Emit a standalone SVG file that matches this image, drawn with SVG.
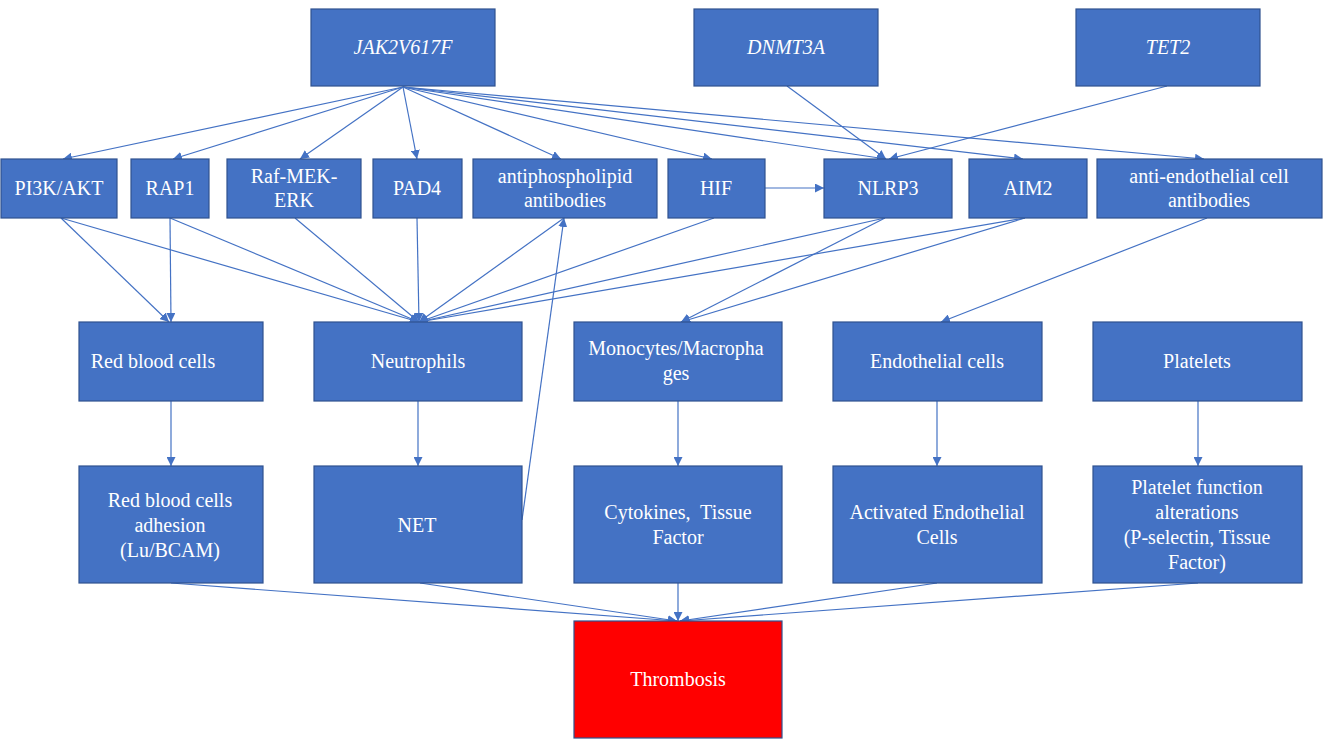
<svg xmlns="http://www.w3.org/2000/svg" width="1325" height="746" viewBox="0 0 1325 746">
<defs>
<style>
.n{fill:#4472C4;stroke:#2F528F;stroke-width:1.2}
.r{fill:#FF0000;stroke:#2F528F;stroke-width:1.2}
text{font-family:'Liberation Serif','Times New Roman','DejaVu Serif',serif;font-size:20px;fill:#FFFFFF;text-anchor:middle}
.i{font-style:italic}
.c line{stroke:#4472C4;stroke-width:1.2;fill:none;marker-end:url(#ah)}
</style>
<marker id="ah" viewBox="0 0 10 10" refX="10" refY="5" markerWidth="9" markerHeight="9" markerUnits="userSpaceOnUse" orient="auto">
<path d="M0,0 L10,5 L0,10 z" fill="#4472C4"/>
</marker>
</defs>
<rect width="1325" height="746" fill="#FFFFFF"/>
<g id="connectors" class="c">
<line x1="403" y1="87" x2="63" y2="159"/>
<line x1="403" y1="87" x2="173" y2="159"/>
<line x1="403" y1="87" x2="300" y2="159"/>
<line x1="403" y1="87" x2="417" y2="159"/>
<line x1="403" y1="87" x2="561" y2="159"/>
<line x1="403" y1="87" x2="712" y2="159"/>
<line x1="403" y1="87" x2="886" y2="159"/>
<line x1="403" y1="87" x2="1023" y2="159"/>
<line x1="403" y1="87" x2="1204" y2="159"/>
<line x1="787" y1="86" x2="886" y2="159"/>
<line x1="1167" y1="86" x2="889" y2="159"/>
<line x1="765" y1="188" x2="824" y2="188"/>
<line x1="61" y1="218" x2="169" y2="322"/>
<line x1="61" y1="218" x2="419" y2="322"/>
<line x1="170" y1="218" x2="171" y2="322"/>
<line x1="170" y1="218" x2="419" y2="322"/>
<line x1="295" y1="218" x2="419" y2="322"/>
<line x1="417" y1="218" x2="419" y2="322"/>
<line x1="564" y1="218" x2="419" y2="322"/>
<line x1="714" y1="218" x2="419" y2="322"/>
<line x1="885" y1="218" x2="419" y2="322"/>
<line x1="1025" y1="218" x2="419" y2="322"/>
<line x1="522" y1="520" x2="564" y2="218"/>
<line x1="885" y1="218" x2="681" y2="322"/>
<line x1="1025" y1="218" x2="681" y2="322"/>
<line x1="1207" y1="218" x2="941" y2="322"/>
<line x1="171" y1="401" x2="171" y2="466"/>
<line x1="418" y1="401" x2="418" y2="466"/>
<line x1="678" y1="401" x2="678" y2="466"/>
<line x1="937" y1="401" x2="937" y2="466"/>
<line x1="1198" y1="401" x2="1198" y2="466"/>
<line x1="171" y1="583" x2="677" y2="621"/>
<line x1="420" y1="583" x2="677" y2="621"/>
<line x1="678" y1="583" x2="678" y2="621"/>
<line x1="937" y1="583" x2="680" y2="621"/>
<line x1="1198" y1="583" x2="680" y2="621"/>
</g>
<g id="jak2"><rect class="n" x="311" y="9" width="184" height="77"/><text class="i" x="403" y="54">JAK2V617F</text></g>
<g id="dnmt3a"><rect class="n" x="694" y="9" width="184" height="77"/><text class="i" x="786" y="54">DNMT3A</text></g>
<g id="tet2"><rect class="n" x="1076" y="9" width="184" height="77"/><text class="i" x="1168" y="54">TET2</text></g>
<g id="pi3k"><rect class="n" x="1" y="159" width="116" height="59"/><text x="59" y="195">PI3K/AKT</text></g>
<g id="rap1"><rect class="n" x="131" y="159" width="78" height="59"/><text x="170" y="195">RAP1</text></g>
<g id="raf"><rect class="n" x="227" y="159" width="134" height="59"/><text x="294" y="183">Raf-MEK-</text><text x="294" y="207">ERK</text></g>
<g id="pad4"><rect class="n" x="373" y="159" width="89" height="59"/><text x="417" y="195">PAD4</text></g>
<g id="apl"><rect class="n" x="473" y="159" width="184" height="59"/><text x="565" y="183">antiphospholipid</text><text x="565" y="207">antibodies</text></g>
<g id="hif"><rect class="n" x="668" y="159" width="97" height="59"/><text x="716" y="195">HIF</text></g>
<g id="nlrp3"><rect class="n" x="824" y="159" width="128" height="59"/><text x="888" y="195">NLRP3</text></g>
<g id="aim2"><rect class="n" x="969" y="159" width="118" height="59"/><text x="1028" y="195">AIM2</text></g>
<g id="aeca"><rect class="n" x="1097" y="159" width="225" height="59"/><text x="1209" y="183">anti-endothelial cell</text><text x="1209" y="207">antibodies</text></g>
<g id="rbc"><rect class="n" x="79" y="322" width="184" height="79"/><text x="153" y="368">Red blood cells</text></g>
<g id="neutro"><rect class="n" x="314" y="322" width="208" height="79"/><text x="418" y="368">Neutrophils</text></g>
<g id="mono"><rect class="n" x="574" y="322" width="208" height="79"/><text x="676" y="355">Monocytes/Macropha</text><text x="676" y="380">ges</text></g>
<g id="endo"><rect class="n" x="833" y="322" width="209" height="79"/><text x="937" y="368">Endothelial cells</text></g>
<g id="plt"><rect class="n" x="1093" y="322" width="209" height="79"/><text x="1197" y="368">Platelets</text></g>
<g id="rbcadh"><rect class="n" x="79" y="466" width="184" height="117"/><text x="170" y="507">Red blood cells</text><text x="170" y="532">adhesion</text><text x="170" y="557">(Lu/BCAM)</text></g>
<g id="net"><rect class="n" x="314" y="466" width="208" height="117"/><text x="417" y="532">NET</text></g>
<g id="cyto"><rect class="n" x="574" y="466" width="208" height="117"/><text x="678" y="519" xml:space="preserve">Cytokines,  Tissue</text><text x="678" y="544">Factor</text></g>
<g id="actendo"><rect class="n" x="833" y="466" width="209" height="117"/><text x="937" y="519">Activated Endothelial</text><text x="937" y="544">Cells</text></g>
<g id="pltfn"><rect class="n" x="1093" y="466" width="209" height="117"/><text x="1197" y="494">Platelet function</text><text x="1197" y="519">alterations</text><text x="1197" y="544">(P-selectin, Tissue</text><text x="1197" y="569">Factor)</text></g>
<g id="thrombosis"><rect class="r" x="574" y="621" width="208" height="117"/><text x="678" y="686">Thrombosis</text></g>
</svg>
